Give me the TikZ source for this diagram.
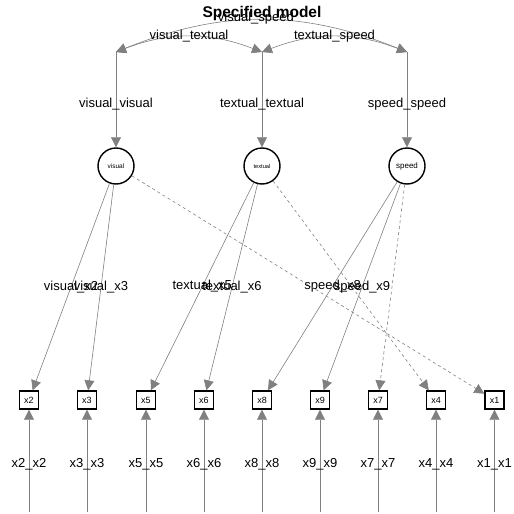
\documentclass[tikz,border=0pt]{standalone}
\usepackage{fontspec}
\setmainfont{Liberation Sans}
\usepackage{tikz}
\usetikzlibrary{arrows.meta}

\definecolor{edgegray}{RGB}{128,128,128}

\tikzset{
  latent/.style={circle,draw,line width=1.4pt,minimum size=36pt,inner sep=0pt},
  manifest/.style={rectangle,draw,line width=1.4pt,minimum width=19pt,minimum height=18pt,inner sep=0pt,font=\fontsize{9}{10}\selectfont},
  arrowline/.style={draw=edgegray,line width=0.6pt,-{Triangle[length=10pt,width=10pt]}},
  covline/.style={draw=edgegray,line width=0.6pt,{Triangle[length=10pt,width=10pt]}-{Triangle[length=10pt,width=10pt]}},
  lbl/.style={text=black,font=\fontsize{13}{15}\selectfont,inner sep=0pt}
}

\begin{document}
\begin{tikzpicture}[x=1pt,y=-1pt]
  \useasboundingbox (0,0) rectangle (514,514);

  \node at(262,13)(title){\fontsize{15.5}{17}\selectfont\bfseries Specified model};

  % latent variables
  \node[latent] at(116,166)(visual){\fontsize{6.5}{7}\selectfont visual};
  \node[latent] at(262,166)(textual){\fontsize{5.7}{6}\selectfont textual};
  \node[latent] at(407,166)(speed){\fontsize{8}{9}\selectfont speed};

  % observed variables
  \node[manifest] at(29,400)(x2){x2};
  \node[manifest] at(87,400)(x3){x3};
  \node[manifest] at(146,400)(x5){x5};
  \node[manifest] at(204,400)(x6){x6};
  \node[manifest] at(262,400)(x8){x8};
  \node[manifest] at(320,400)(x9){x9};
  \node[manifest] at(378,400)(x7){x7};
  \node[manifest] at(436,400)(x4){x4};
  \node[manifest] at(494.5,400)(x1){x1};

  % latent variances
  \coordinate (visualtop) at(116,52);
  \coordinate (textualtop) at(262,52);
  \coordinate (speedtop) at(407,52);
  \draw[arrowline] (visualtop) -- (visual) node[lbl,pos=.55]{visual\_visual};
  \draw[arrowline] (textualtop) -- (textual) node[lbl,pos=.55]{textual\_textual};
  \draw[arrowline] (speedtop) -- (speed) node[lbl,pos=.55]{speed\_speed};

  % covariances
  \draw[covline] (visualtop) to[bend left=22] node[lbl,pos=.48,yshift=2pt]{visual\_speed} (speedtop);
  \draw[covline] (visualtop) to[bend left=21] node[lbl,yshift=1pt]{visual\_textual} (textualtop);
  \draw[covline] (textualtop) to[bend left=21] node[lbl,yshift=1pt]{textual\_speed} (speedtop);

  % loadings
  \draw[arrowline] (visual) -- (x2) node[lbl,pos=.5]{visual\_x2};
  \draw[arrowline] (visual) -- (x3) node[lbl,pos=.5]{visual\_x3};
  \draw[arrowline] (textual) -- (x5) node[lbl,pos=.5]{textual\_x5};
  \draw[arrowline] (textual) -- (x6) node[lbl,pos=.5]{textual\_x6};
  \draw[arrowline] (speed) -- (x8) node[lbl,pos=.5]{speed\_x8};
  \draw[arrowline] (speed) -- (x9) node[lbl,pos=.5]{speed\_x9};
  \draw[arrowline,dashed] (visual) -- (x1);
  \draw[arrowline,dashed] (textual) -- (x4);
  \draw[arrowline,dashed] (speed) -- (x7);

  % residual variances
  \foreach \v/\x in {x2/29,x3/87,x5/146,x6/204,x8/262,x9/320,x7/378,x4/436,x1/494.5}{
    \coordinate (\v res) at(\x,512);
    \draw[arrowline] (\v res) -- (\v) node[lbl,pos=.47]{\v\_\v};
  }
\end{tikzpicture}
\end{document}
